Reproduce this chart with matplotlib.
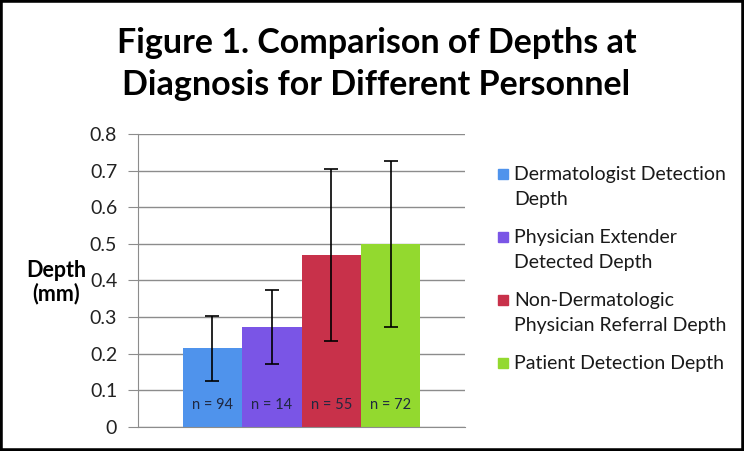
import numpy as np
import matplotlib.pyplot as plt
from matplotlib.patches import Rectangle

# data
groups = ["Dermatologist Detection\nDepth",
          "Physician Extender\nDetected Depth",
          "Non-Dermatologic\nPhysician Referral Depth",
          "Patient Detection Depth"]
depths = [0.215, 0.272, 0.469, 0.500]
errors = [0.089, 0.101, 0.235, 0.227]
counts = [94, 14, 55, 72]
colors = ["#4F93EC", "#7A55E6", "#C8314A", "#93D92F"]

plt.rcParams['font.family'] = ['Lato', 'DejaVu Sans']

W, H = 744, 451
fig = plt.figure(figsize=(W / 100, H / 100), dpi=100)
ax = fig.add_axes([0.1855, 0.0532, 0.4395, 0.6498])

x = np.arange(len(depths)) - 1.5
bars = ax.bar(x, depths, width=1.0, color=colors, zorder=2)
ax.errorbar(x, depths, yerr=errors, fmt="none", ecolor="black",
            elinewidth=1.2, capsize=5, capthick=1.2, zorder=3)

for xi, n in zip(x, counts):
    ax.text(xi, 0.06, "n = %d" % n, ha="center", va="center",
            fontsize=10.5, color="#1F2840", zorder=4)

ax.set_xlim(-2.75, 2.75)
ax.set_ylim(0, 0.8)
ax.set_yticks(np.arange(0, 0.81, 0.1))
ax.set_yticklabels(["0"] + ["%.1f" % v for v in np.arange(0.1, 0.81, 0.1)])
ax.set_xticks([])
ax.yaxis.grid(True, color="#8C8C8C", linewidth=1.0, zorder=0)
ax.tick_params(axis="y", length=7, color="#8C8C8C", labelsize=14,
               pad=8, labelcolor="#222222")
for side in ["top", "right"]:
    ax.spines[side].set_visible(False)
ax.spines["left"].set_color("#8C8C8C")
ax.spines["bottom"].set_color("#8C8C8C")

ax.text(-0.25, 0.395, "Depth\n(mm)", transform=ax.get_yaxis_transform(),
        ha="center", va="center", fontsize=15.5, fontweight="bold",
        linespacing=1.1)

fig.suptitle("Figure 1. Comparison of Depths at\nDiagnosis for Different Personnel",
             x=0.506, y=0.94, fontsize=24.5, fontweight="bold",
             linespacing=1.38, va="top")

# legend: square beside the first line of each (wrapped) label
for i, (lab, col) in enumerate(zip(groups, colors)):
    base = 180 + 63 * i          # baseline of first line, pixels from top
    fig.patches.append(Rectangle((498 / W, 1 - (base - 1) / H), 10 / W, 10 / H,
                                 transform=fig.transFigure, color=col))
    for j, line in enumerate(lab.split("\n")):
        fig.text(514 / W, 1 - (base + 25 * j) / H, line, ha="left",
                 va="baseline", fontsize=14, color="#1A1A1A")

# black frame round the picture
fig.patches.append(Rectangle((0, 0), 1, 1, transform=fig.transFigure,
                             fill=False, edgecolor="black", linewidth=4))

fig.savefig("out.png", dpi=100)
